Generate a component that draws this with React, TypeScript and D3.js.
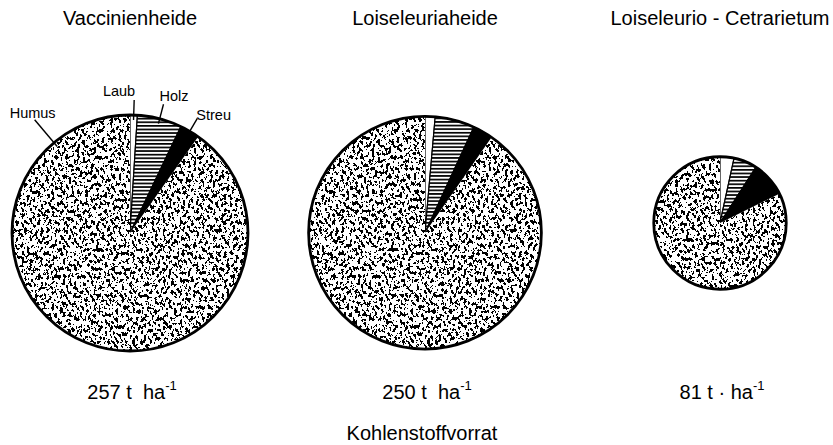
import * as d3 from 'd3'

// Sites and carbon totals (t/ha)
const sites = ['Vaccinienheide', 'Loiseleuriaheide', 'Loiseleurio - Cetrarietum']
const totals = [257, 250, 81]
const totalPrefix = ['257 t\u00a0\u00a0ha', '250 t\u00a0\u00a0ha', '81 t \u00b7 ha']

// Components, share of total (%)
const components = ['Laub', 'Holz', 'Streu', 'Humus']
const laub = [1.0, 1.4, 3.4]
const holz = [6.1, 5.5, 5.7]
const streu = [2.7, 2.8, 8.6]
const humus = [90.2, 90.3, 82.3]

const W = 833
const H = 445
const font = '"Liberation Sans", Arial, sans-serif'

export default function App() {
  const x = d3.scalePoint<string>().domain(sites).range([130, 720])
  const r = d3.scaleSqrt().domain([0, 257]).range([0, 118])
  // smaller pies sit a bit higher
  const cy = d3.scaleLinear().domain([r(81), r(257)]).range([223, 233])

  const pie = d3.pie<{ name: string; value: number }>().sort(null).value(d => d.value)

  const fills: Record<string, string> = {
    Laub: '#fff',
    Holz: 'url(#hatch)',
    Streu: '#000',
    Humus: '#000',
  }

  return (
    <svg width={W} height={H} style={{ position: 'absolute', left: 0, top: 0, background: '#fff' }}>
      <defs>
        <pattern id="hatch" patternUnits="userSpaceOnUse" width="8" height="3.6">
          <rect width="8" height="3.6" fill="#fff" />
          <rect width="8" height="1.7" fill="#000" />
        </pattern>
        <filter id="speckle" filterUnits="userSpaceOnUse" x={-W} y={-H} width={2 * W} height={2 * H}
          colorInterpolationFilters="sRGB">
          <feTurbulence type="fractalNoise" baseFrequency="0.36 0.26" numOctaves="3" seed="7" result="noise" />
          <feColorMatrix in="noise" type="matrix"
            values="0 0 0 0 0  0 0 0 0 0  0 0 0 0 0  -6 0 0 0 3.17" result="mask" />
          <feComponentTransfer in="mask" result="bin">
            <feFuncA type="discrete" tableValues="0 1" />
          </feComponentTransfer>
          <feComposite in="bin" in2="SourceGraphic" operator="in" />
        </filter>
      </defs>

      {sites.map((site, i) => {
        const rad = r(totals[i])
        const cx = x(site) || 0
        const cyy = cy(rad)
        const data = components.map((name, k) => ({
          name,
          value: [laub, holz, streu, humus][k][i],
        }))
        const arcs = pie(data)
        const arc = d3.arc<d3.PieArcDatum<{ name: string; value: number }>>().innerRadius(0).outerRadius(rad)
        return (
          <g key={site}>
            <text x={cx} y={25} textAnchor="middle" fontFamily={font} fontSize={20}>{site}</text>
            <g transform={`translate(${cx},${cyy})`}>
              {arcs.map(a => (
                <g key={a.data.name}>
                  {a.data.name === 'Humus' && <path d={arc(a) || ''} fill="#fff" />}
                  <path
                    d={arc(a) || ''}
                    fill={fills[a.data.name]}
                    filter={a.data.name === 'Humus' ? 'url(#speckle)' : undefined}
                    stroke={a.data.name === 'Humus' ? 'none' : '#000'}
                    strokeWidth={1.2}
                  />
                </g>
              ))}
              <circle r={rad} fill="none" stroke="#000" strokeWidth={2.8} />
              {i === 0 && arcs.map(a => {
                const n = a.data.name
                const ang = n === 'Humus' ? a.endAngle - 0.7 : (a.startAngle + a.endAngle) / 2
                const r0 = rad - 5
                const r1 = n === 'Humus' ? rad + 30 : rad + 15
                const p0 = [Math.sin(ang) * r0, -Math.cos(ang) * r0]
                const p1 = [Math.sin(ang) * r1, -Math.cos(ang) * r1]
                let tx = p1[0], ty = p1[1] - 4, anchor = 'middle'
                if (n === 'Laub') { anchor = 'end'; tx = p1[0] + 1 }
                if (n === 'Holz') { anchor = 'start'; tx = p1[0] - 4; ty = p1[1] - 3 }
                if (n === 'Streu') { anchor = 'start'; tx = p1[0] - 1; ty = p1[1] + 2 }
                if (n === 'Humus') { anchor = 'middle'; tx = p1[0] - 2; ty = p1[1] - 2 }
                return (
                  <g key={'lab' + n}>
                    <line x1={p0[0]} y1={p0[1]} x2={p1[0]} y2={p1[1]} stroke="#000" strokeWidth={1.4} />
                    <text x={tx} y={ty} textAnchor={anchor} fontFamily={font} fontSize={14.5}>{n}</text>
                  </g>
                )
              })}
            </g>
            <text x={cx + 2} y={399} textAnchor="middle" fontFamily={font} fontSize={20}>
              {totalPrefix[i]}
              <tspan fontSize={13} dy={-9}>-1</tspan>
            </text>
          </g>
        )
      })}

      <text x={422} y={440} textAnchor="middle" fontFamily={font} fontSize={20}>Kohlenstoffvorrat</text>
    </svg>
  )
}
